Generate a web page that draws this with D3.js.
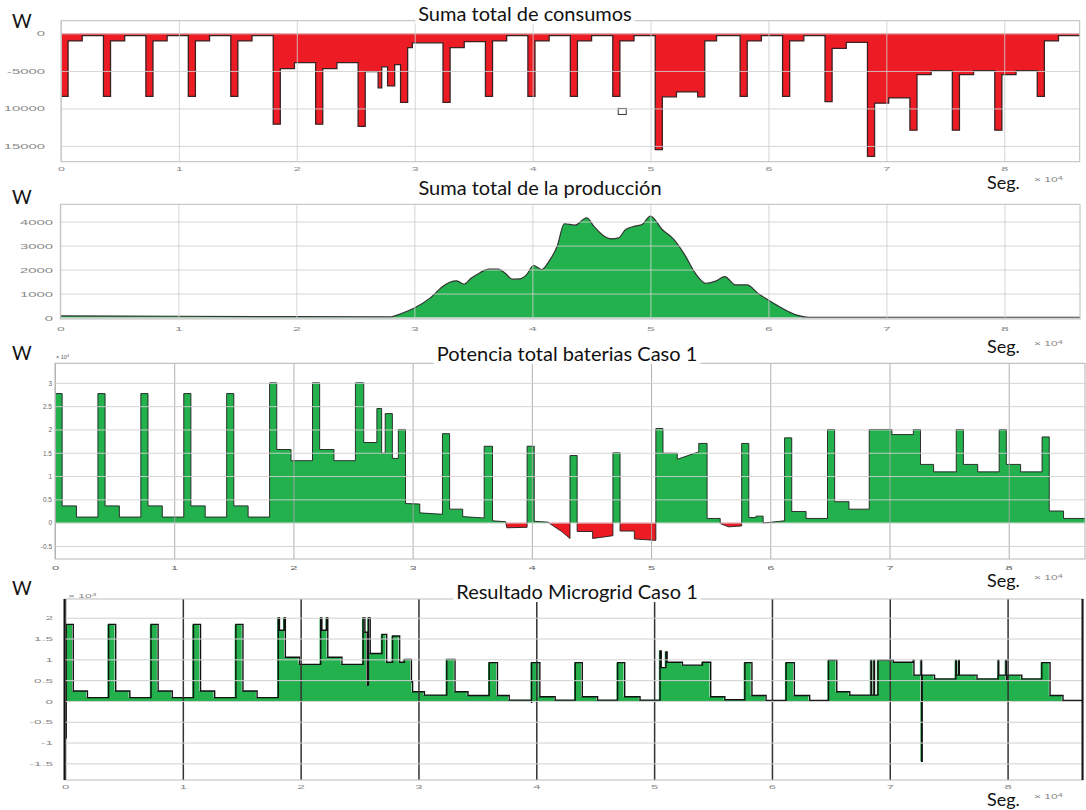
<!DOCTYPE html>
<html>
<head>
<meta charset="utf-8">
<script src="https://cdn.jsdelivr.net/npm/d3@7"></script>
<style>
  body { margin: 0; background: #fff; }
  svg { display: block; }
</style>
</head>
<body>
<script>
// ---------- shared axis data (time in seconds, labels in units of 10^4 s) ----------
const xTickValues = [0, 10000, 20000, 30000, 40000, 50000, 60000, 70000, 80000];
const xTickLabels = ["0", "1", "2", "3", "4", "5", "6", "7", "8"];
const dayEnd = 86400;

// ---------- 1. Suma total de consumos (W, step series: [start time, level]) ----------
const consumoTicks = [0, -5000, -10000, -15000];
const consumoTickLabels = ["0", "-5000", "10000", "15000"];
const consumo = [
  [0, -8400], [600, -1000], [1800, -300],
  [3600, -8400], [4200, -1000], [5400, -300],
  [7200, -8400], [7800, -1000], [9000, -300],
  [10800, -8400], [11400, -1000], [12600, -300],
  [14400, -8400], [15000, -1000], [16200, -300],
  [18000, -12100], [18600, -4700], [19800, -3900],
  [21600, -12100], [22200, -4700], [23400, -3900],
  [25200, -12400], [25800, -5100], [26900, -7250], [27200, -4450], [27700, -7000], [28300, -4150],
  [28800, -9200], [29400, -1900], [29800, -1250],
  [32400, -9200], [33000, -1900], [34200, -1100],
  [36000, -8400], [36600, -1000], [37800, -300],
  [39600, -8400], [40200, -1000], [41400, -300],
  [43200, -8400], [43800, -1000], [45000, -300],
  [46800, -8400], [47400, -1000], [48600, -300],
  [50400, -15500], [51000, -8450], [52200, -7800],
  [54000, -8450], [54600, -1000], [55600, -300],
  [57600, -8400], [58200, -1000], [59400, -300],
  [61200, -8400], [61800, -1000], [63000, -300],
  [64800, -9100], [65400, -2000], [66600, -1200],
  [68400, -16400], [69000, -9300], [70200, -8600],
  [72000, -12900], [72600, -5500], [73800, -4950],
  [75600, -12900], [76200, -5500], [77400, -4950],
  [79200, -12900], [79800, -5500], [81000, -4950],
  [82800, -8400], [83400, -1000], [84600, -300],
  [86400, -300]
];
const consumoMarker = [[47600, -10400]];

// ---------- 2. Suma total de la produccion (W) ----------
const produccionTicks = [0, 1000, 2000, 3000, 4000];
const produccionTickLabels = ["0", "1000", "2000", "3000", "4000"];
const produccion = [
  [0, 70], [10000, 55], [20000, 35], [27900, 25], [28900, 170], [30000, 400],
  [31300, 800], [32400, 1290], [33000, 1470], [33600, 1530], [34200, 1390],
  [34800, 1640], [35500, 1850], [36300, 2020], [37100, 2020], [37700, 1850],
  [38300, 1600], [38900, 1610], [39500, 1780], [40100, 2170], [40800, 2000],
  [41400, 2340], [42100, 2970], [42700, 3910], [43600, 3850], [44600, 4160],
  [45200, 3810], [46000, 3420], [46700, 3280], [47300, 3320], [47900, 3670],
  [48700, 3810], [49300, 3880], [50000, 4230], [51000, 3670], [52000, 3250],
  [52900, 2620], [53800, 1850], [54700, 1430], [55600, 1530], [56300, 1710],
  [57200, 1360], [58200, 1360], [59100, 1010], [60000, 730], [61200, 380],
  [62400, 100], [63400, 10], [75000, 10], [86400, 10]
];

// ---------- 3. Potencia total baterias Caso 1 (W, polyline vertices) ----------
const bateriaTicks = [-5000, 0, 5000, 10000, 15000, 20000, 25000, 30000];
const bateriaTickLabels = ["-0.5", "0", "0.5", "1", "1.5", "2", "2.5", "3"];
const bateria = [
  [0, 27700], [600, 27700], [600, 3600], [1800, 3600], [1800, 1200], [3600, 1200],
  [3600, 27700], [4200, 27700], [4200, 3600], [5400, 3600], [5400, 1200], [7200, 1200],
  [7200, 27700], [7800, 27700], [7800, 3600], [9000, 3600], [9000, 1200], [10800, 1200],
  [10800, 27700], [11400, 27700], [11400, 3600], [12600, 3600], [12600, 1200], [14400, 1200],
  [14400, 27700], [15000, 27700], [15000, 3600], [16200, 3600], [16200, 1200], [18000, 1200],
  [18000, 30000], [18600, 30000], [18600, 15700], [19800, 15700], [19800, 13300], [21600, 13300],
  [21600, 30000], [22200, 30000], [22200, 15700], [23400, 15700], [23400, 13300], [25200, 13300],
  [25200, 30000], [25900, 30000], [25900, 17200], [27000, 17200], [27000, 24500], [27400, 24500],
  [27400, 14900], [27700, 14900], [27700, 23400], [28300, 23400], [28300, 13800], [28800, 13800],
  [28800, 20000], [29400, 20000], [29400, 4100], [30600, 4000], [30600, 2100], [32500, 1800],
  [32500, 19100], [33100, 19100], [33100, 2900], [34200, 2900], [34200, 1300], [36000, 1000],
  [36000, 16400], [36700, 16400], [36700, 400], [37800, 200], [37900, -1100], [39600, -1000],
  [39600, 16400], [40200, 16400], [40200, 300], [41400, 100], [41500, -200], [42500, -1900], [43200, -3400],
  [43200, 14400], [43800, 14400], [43800, -1900], [45100, -1900], [45100, -3400], [46800, -2800],
  [46800, 15000], [47400, 15000], [47400, -1800], [48600, -1800], [48600, -3500], [50400, -3800],
  [50400, 20200], [51000, 20200], [51000, 14900], [52200, 14900], [52200, 13600], [54000, 15200],
  [54000, 17000], [54700, 17000], [54700, 900], [55800, 900], [55800, -200], [56500, -900], [57600, -700],
  [57600, 17000], [58200, 17000], [58200, 1100], [58800, 1100], [58800, 1400], [59400, 1400],
  [59400, -100], [61200, 400],
  [61200, 18200], [61800, 18200], [61800, 2400], [63000, 2400], [63000, 900], [64800, 900],
  [64800, 20000], [65400, 20000], [65400, 4500], [66600, 4500], [66600, 2900], [68300, 2900],
  [68300, 20000], [70200, 20000], [70200, 18900], [72000, 18900],
  [72000, 20000], [72600, 20000], [72600, 12500], [73700, 12500], [73700, 10900], [75600, 10900],
  [75600, 20000], [76200, 20000], [76200, 12500], [77400, 12500], [77400, 10900], [79200, 10900],
  [79200, 20000], [79800, 20000], [79800, 12500], [81000, 12500], [81000, 10900], [82800, 10900],
  [82800, 18400], [83400, 18400], [83400, 2500], [84600, 2500], [84600, 900], [86400, 900]
];

// ---------- 4. Resultado Microgrid Caso 1 (W, polyline vertices) ----------
const microgridTicks = [-15000, -10000, -5000, 0, 5000, 10000, 15000, 20000];
const microgridTickLabels = ["-1.5", "-1", "-0.5", "0", "0.5", "1", "1.5", "2"];
const microgrid = [
  [0, -9000], [0, 18400], [600, 18400], [600, 2400], [1800, 2400], [1800, 800], [3600, 800],
  [3600, 18400], [4200, 18400], [4200, 2400], [5400, 2400], [5400, 800], [7200, 800],
  [7200, 18400], [7800, 18400], [7800, 2400], [9000, 2400], [9000, 800], [10800, 800],
  [10800, 18400], [11400, 18400], [11400, 2400], [12600, 2400], [12600, 800], [14400, 800],
  [14400, 18400], [15000, 18400], [15000, 2400], [16200, 2400], [16200, 800], [18000, 800],
  [18000, 20000], [18100, 20000], [18100, 17000], [18500, 17000], [18500, 20000], [18600, 20000],
  [18600, 10500], [19800, 10500], [19800, 8800], [21600, 8800],
  [21600, 20000], [21700, 20000], [21700, 17000], [22100, 17000], [22100, 20000], [22200, 20000],
  [22200, 10500], [23400, 10500], [23400, 8800], [25200, 8800],
  [25200, 20000], [25350, 20000], [25350, 16500], [25550, 16500], [25550, 3800], [25650, 3800],
  [25650, 20000], [25800, 20000], [25800, 11400], [26800, 11400], [26800, 16000], [27200, 16000],
  [27200, 9300], [27700, 9300], [27700, 15600], [28300, 15600], [28300, 9300], [28700, 9300],
  [28700, 10000], [29300, 10000], [29300, 4600], [29400, 4600], [29400, 2200], [30400, 2200],
  [30400, 1400], [32300, 1400],
  [32300, 10000], [33000, 10000], [33000, 2200], [34100, 2200], [34100, 1300], [35900, 1300],
  [35900, 9200], [36600, 9200], [36600, 1300], [37600, 1300], [37600, 200], [39500, 200],
  [39500, -500], [39500, 9200], [40200, 9200], [40200, 1000], [41500, 1000], [41500, 200], [43200, 200],
  [43200, 9200], [43800, 9200], [43800, 1000], [45100, 1000], [45100, 200], [46800, 200],
  [46800, 9200], [47400, 9200], [47400, 1000], [48700, 1000], [48700, 200], [50400, 200],
  [50400, 12000], [50500, 12000], [50500, 8000], [50900, 8000], [50900, 11800], [51000, 11800],
  [51000, 9300], [52300, 9300], [52300, 8600], [54000, 8600], [54000, 9300], [54700, 9300],
  [54700, 1000], [55900, 1000], [55900, 300], [57600, 300],
  [57600, 9200], [58200, 9200], [58200, 1300], [59400, 1300], [59400, 100], [61100, 100],
  [61100, 9200], [61800, 9200], [61800, 1300], [63100, 1300], [63100, 100], [64700, 100],
  [64700, 9800], [65400, 9800], [65400, 2200], [66500, 2200], [66500, 1400], [68300, 1400],
  [68300, 9800], [68350, 9800], [68350, 1400], [68550, 1400], [68550, 9800], [68600, 9800],
  [68600, 1400], [68900, 1400], [68900, 9800], [70200, 9800], [70200, 9300], [71900, 9300],
  [71900, 9800], [71950, 9800], [71950, 6200], [72550, 6200], [72550, 9800], [72600, 9800],
  [72600, -14500], [72650, -14500], [72650, 6200], [73700, 6200], [73700, 5300], [75500, 5300],
  [75500, 9800], [75550, 9800], [75550, 6200], [75750, 6200], [75750, 9800], [75800, 9800],
  [75800, 6200], [77300, 6200], [77300, 5300], [79100, 5300],
  [79100, 9800], [79150, 9800], [79150, 6200], [79750, 6200], [79750, 9800], [79800, 9800],
  [79800, 5000], [79900, 5000], [79900, 6200], [81100, 6200], [81100, 5300], [82800, 5300],
  [82800, 9200], [83500, 9200], [83500, 1300], [84600, 1300], [84600, 100], [86400, 100]
];

// ---------- drawing ----------
const RED = "#ed1c24", GREEN = "#22b14c";
const svg = d3.select("body").append("svg")
  .attr("width", 1086).attr("height", 810)
  .style("font-family", "'Liberation Sans', Arial, sans-serif");
svg.append("rect").attr("width", 1086).attr("height", 810).attr("fill", "#fff");

let clipCount = 0;
function makePanel(cfg) {
  const x = d3.scaleLinear().domain([0, dayEnd]).range(cfg.xr);
  const y = d3.scaleLinear().domain(cfg.yd).range(cfg.yr);
  const id = "plotclip" + (clipCount++);
  svg.append("clipPath").attr("id", id).append("rect")
    .attr("x", cfg.xr[0]).attr("y", cfg.yr[1])
    .attr("width", cfg.xr[1] - cfg.xr[0]).attr("height", cfg.yr[0] - cfg.yr[1]);
  const plot = svg.append("g").attr("clip-path", `url(#${id})`);
  return { x, y, plot, cfg };
}

// gridlines + tick labels from d3 axes; labels are drawn wide and flat
function drawAxes(p, yTicks, yLabels) {
  const c = p.cfg;
  const w = c.xr[1] - c.xr[0], h = c.yr[0] - c.yr[1];

  const gx = svg.append("g").attr("transform", `translate(0,${c.yr[0]})`)
    .call(d3.axisBottom(p.x).tickValues(xTickValues)
      .tickFormat((d, i) => xTickLabels[i]).tickSize(-h).tickPadding(0));
  gx.attr("font-family", null).attr("font-size", null);
  gx.select(".domain").remove();
  gx.selectAll(".tick line").attr("stroke", c.vGrid).attr("stroke-width", c.vGridW)
    .attr("stroke-opacity", c.gridOpacity);
  gx.selectAll(".tick text")
    .attr("y", 0).attr("dy", "0.35em")
    .attr("transform", `translate(0,${c.xLabelY - c.yr[0]}) scale(${c.xLabelScale[0]},${c.xLabelScale[1]})`)
    .attr("font-size", c.xLabelSize).attr("fill", c.labelColor);

  const gy = svg.append("g").attr("transform", `translate(${c.xr[0]},0)`)
    .call(d3.axisLeft(p.y).tickValues(yTicks)
      .tickFormat((d, i) => yLabels[i]).tickSize(-w).tickPadding(0));
  gy.attr("font-family", null).attr("font-size", null);
  gy.select(".domain").remove();
  gy.selectAll(".tick line").attr("stroke", c.hGrid).attr("stroke-width", 1)
    .attr("stroke-opacity", c.gridOpacity);
  gy.selectAll(".tick text")
    .attr("x", 0).attr("dy", "0.35em").attr("text-anchor", "end")
    .attr("transform", `translate(${c.yLabelRight - c.xr[0]},0) scale(${c.yLabelScale[0]},${c.yLabelScale[1]})`)
    .attr("font-size", c.yLabelSize).attr("fill", c.labelColor);
}

function drawFrame(p, color) {
  const c = p.cfg;
  svg.append("rect")
    .attr("x", c.xr[0]).attr("y", c.yr[1])
    .attr("width", c.xr[1] - c.xr[0]).attr("height", c.yr[0] - c.yr[1])
    .attr("fill", "none").attr("stroke", color).attr("stroke-width", 1);
}

function title(text, cx, baseline, size) {
  const t = svg.append("text").attr("x", cx).attr("y", baseline)
    .attr("text-anchor", "middle").attr("font-family", "Lato, 'Open Sans', sans-serif")
    .attr("font-size", size).attr("fill", "#111").text(text);
  const b = t.node().getBBox();
  svg.insert("rect", () => t.node())
    .attr("x", b.x - 3).attr("y", b.y + 1).attr("width", b.width + 6).attr("height", b.height - 2)
    .attr("fill", "#fff");
}

function unitLabel(baseline) {
  svg.append("text").attr("x", 12).attr("y", baseline)
    .attr("font-family", "Lato, 'Open Sans', sans-serif").attr("font-size", 19)
    .attr("fill", "#111").text("W");
}

function segLabel(baseline) {
  svg.append("text").attr("x", 987).attr("y", baseline)
    .attr("font-family", "Lato, 'Open Sans', sans-serif").attr("font-size", 18)
    .attr("fill", "#111").text("Seg.");
  const e = svg.append("text").attr("transform", `translate(1034,${baseline - 7}) scale(1.5,0.8)`)
    .attr("font-size", 8).attr("fill", "#888");
  e.append("tspan").text("× 10");
  e.append("tspan").attr("dy", -3).attr("font-size", 6).text("4");
}

function exponentLabel(x, y, size, sx, sy, color) {
  const e = svg.append("text").attr("transform", `translate(${x},${y}) scale(${sx},${sy})`)
    .attr("font-size", size).attr("fill", color);
  e.append("tspan").text("× 10");
  e.append("tspan").attr("dy", -size * 0.4).attr("font-size", size * 0.75).text("4");
}

// ---- panel 1: consumption ----
const p1 = makePanel({
  xr: [61, 1079.7], yr: [161.7, 20.7], yd: [-17100, 1700],
  vGrid: "#cfcfcf", hGrid: "#cfcfcf", vGridW: 1, gridOpacity: 0.85,
  xLabelY: 169, xLabelScale: [1.25, 0.5], xLabelSize: 10,
  yLabelRight: 45, yLabelScale: [1.75, 0.85], yLabelSize: 8.5, labelColor: "#888"
});
p1.plot.append("path").datum(consumo)
  .attr("d", d3.area().curve(d3.curveStepAfter)
    .x(d => p1.x(d[0])).y0(p1.y(0)).y1(d => p1.y(d[1])))
  .attr("fill", RED);
drawAxes(p1, consumoTicks, consumoTickLabels);
p1.plot.append("path").datum(consumo)
  .attr("d", d3.line().curve(d3.curveStepAfter).x(d => p1.x(d[0])).y(d => p1.y(d[1])))
  .attr("fill", "none").attr("stroke", "#3a2222").attr("stroke-width", 1.3);
p1.plot.selectAll("rect.mk").data(consumoMarker).join("rect").attr("class", "mk")
  .attr("x", d => p1.x(d[0]) - 4).attr("y", d => p1.y(d[1]) - 3)
  .attr("width", 8).attr("height", 6)
  .attr("fill", "#fff").attr("stroke", "#333").attr("stroke-width", 1);
drawFrame(p1, "#bdbdbd");

// ---- panel 2: production ----
const p2 = makePanel({
  xr: [60.3, 1080], yr: [319, 204.3], yd: [-60, 4720],
  vGrid: "#cfcfcf", hGrid: "#cfcfcf", vGridW: 1, gridOpacity: 0.85,
  xLabelY: 329, xLabelScale: [1.4, 0.5], xLabelSize: 10,
  yLabelRight: 53, yLabelScale: [1.75, 0.85], yLabelSize: 8.5, labelColor: "#888"
});
p2.plot.append("path").datum(produccion)
  .attr("d", d3.area().curve(d3.curveMonotoneX)
    .x(d => p2.x(d[0])).y0(p2.y(0)).y1(d => p2.y(d[1])))
  .attr("fill", GREEN);
drawAxes(p2, produccionTicks, produccionTickLabels);
p2.plot.append("path").datum(produccion)
  .attr("d", d3.line().curve(d3.curveMonotoneX).x(d => p2.x(d[0])).y(d => p2.y(d[1])))
  .attr("fill", "none").attr("stroke", "#333").attr("stroke-width", 1.2);
drawFrame(p2, "#bdbdbd");

// ---- panel 3: battery power (green = discharge, red = charge) ----
const p3 = makePanel({
  xr: [55, 1085], yr: [559, 363.3], yd: [-7800, 34200],
  vGrid: "#a8a8a8", hGrid: "#d0d0d0", vGridW: 1, gridOpacity: 0.9,
  xLabelY: 568, xLabelScale: [1.3, 0.5], xLabelSize: 10,
  yLabelRight: 52, yLabelScale: [1, 1], yLabelSize: 6.5, labelColor: "#666"
});
p3.plot.append("path").datum(bateria)
  .attr("d", d3.area().x(d => p3.x(d[0])).y0(p3.y(0)).y1(d => p3.y(Math.max(0, d[1]))))
  .attr("fill", GREEN);
p3.plot.append("path").datum(bateria)
  .attr("d", d3.area().x(d => p3.x(d[0])).y0(p3.y(0)).y1(d => p3.y(Math.min(0, d[1]))))
  .attr("fill", RED);
drawAxes(p3, bateriaTicks, bateriaTickLabels);
p3.plot.append("path").datum(bateria)
  .attr("d", d3.line().x(d => p3.x(d[0])).y(d => p3.y(d[1])))
  .attr("fill", "none").attr("stroke", "#1e1e1e").attr("stroke-width", 0.9);
drawFrame(p3, "#b5b5b5");
exponentLabel(56, 359, 5.5, 1, 1, "#555");

// ---- panel 4: microgrid result ----
const p4 = makePanel({
  xr: [65, 1083], yr: [780, 599], yd: [-19000, 24500],
  vGrid: "#333", hGrid: "#d0d0d0", vGridW: 1.5, gridOpacity: 1,
  xLabelY: 787, xLabelScale: [1.3, 0.5], xLabelSize: 10,
  yLabelRight: 53, yLabelScale: [1.6, 0.7], yLabelSize: 8.5, labelColor: "#888"
});
p4.plot.append("path").datum(microgrid)
  .attr("d", d3.area().x(d => p4.x(d[0])).y0(p4.y(0)).y1(d => p4.y(d[1])))
  .attr("fill", GREEN);
drawAxes(p4, microgridTicks, microgridTickLabels);
p4.plot.append("path").datum(microgrid)
  .attr("d", d3.line().x(d => p4.x(d[0])).y(d => p4.y(d[1])))
  .attr("transform", "translate(1.2,0)")
  .attr("fill", "none").attr("stroke", "#111").attr("stroke-width", 1.4);
drawFrame(p4, "#bdbdbd");
svg.append("line").attr("x1", 64.5).attr("x2", 64.5).attr("y1", 599).attr("y2", 780)
  .attr("stroke", "#111").attr("stroke-width", 2);
svg.append("line").attr("x1", 1082.5).attr("x2", 1082.5).attr("y1", 599).attr("y2", 780)
  .attr("stroke", "#111").attr("stroke-width", 2);
exponentLabel(68, 598, 8, 1.5, 0.7, "#888");

// ---- titles and axis names ----
title("Suma total de consumos", 525, 21, 20);
title("Suma total de la producción", 540, 195, 20);
title("Potencia total baterias Caso 1", 567, 361, 20);
title("Resultado Microgrid Caso 1", 577, 599, 20);

unitLabel(28);
unitLabel(204);
unitLabel(360);
unitLabel(595);

segLabel(189);
segLabel(353);
segLabel(587);
segLabel(806);
</script>
</body>
</html>
